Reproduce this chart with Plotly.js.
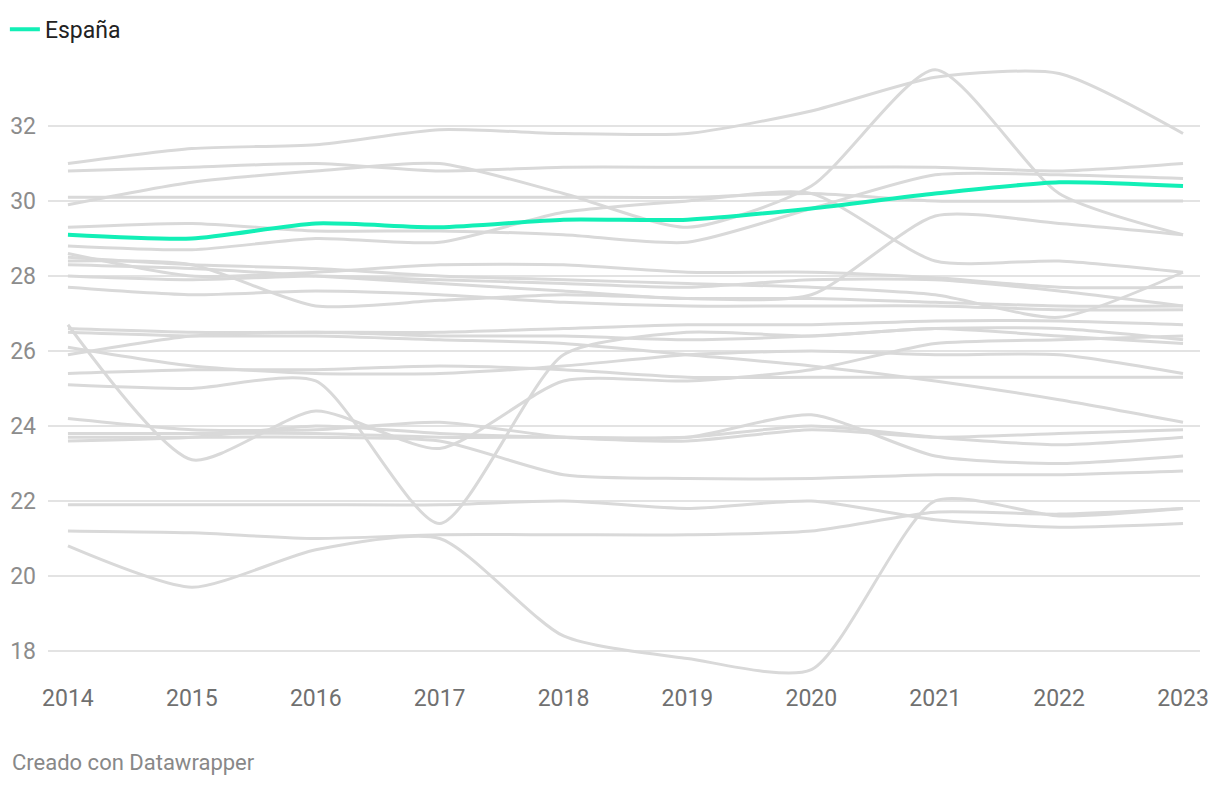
<!DOCTYPE html>
<html>
<head>
<meta charset="utf-8">
<script src="https://cdn.plot.ly/plotly-3.0.1.min.js"></script>
<style>
  html, body { margin: 0; padding: 0; background: #fff; }
  #chart { width: 1220px; height: 786px; }
</style>
</head>
<body>
<div id="chart"></div>
<script>
const years = [2014, 2015, 2016, 2017, 2018, 2019, 2020, 2021, 2022, 2023];
const yTicks = [18, 20, 22, 24, 26, 28, 30, 32];

const espana = [29.1, 29.0, 29.4, 29.3, 29.5, 29.5, 29.8, 30.2, 30.5, 30.4];

const g01 = [31.0, 31.4, 31.5, 31.9, 31.8, 31.8, 32.4, 33.3, 33.4, 31.8];
const g02 = [29.9, 30.5, 30.8, 31.0, 30.2, 29.3, 30.4, 33.5, 30.2, 29.1];
const g03 = [30.8, 30.9, 31.0, 30.8, 30.9, 30.9, 30.9, 30.9, 30.8, 31.0];
const g04 = [30.1, 30.1, 30.1, 30.1, 30.1, 30.1, 30.2, 30.0, 30.0, 30.0];
const g05 = [29.3, 29.4, 29.2, 29.2, 29.1, 28.9, 29.8, 30.7, 30.7, 30.6];
const g06 = [28.8, 28.7, 29.0, 28.9, 29.7, 30.0, 30.2, 28.4, 28.4, 28.1];
const g07 = [28.6, 28.0, 28.1, 28.3, 28.3, 28.1, 28.1, 27.95, 27.7, 27.7];
const g08 = [28.5, 28.3, 28.2, 28.0, 27.9, 27.8, 27.7, 27.5, 26.9, 28.1];
const g09 = [28.4, 28.3, 27.2, 27.35, 27.5, 27.4, 27.4, 27.3, 27.2, 27.2];
const g10 = [28.3, 28.2, 28.0, 27.8, 27.6, 27.4, 27.5, 29.6, 29.4, 29.1];
const g11 = [28.0, 27.9, 28.0, 27.9, 27.8, 27.7, 27.9, 27.9, 27.6, 27.2];
const g12 = [27.7, 27.5, 27.6, 27.5, 27.3, 27.2, 27.2, 27.2, 27.1, 27.1];
const g13 = [26.7, 23.1, 24.4, 23.4, 25.2, 25.2, 25.5, 26.2, 26.3, 26.4];
const g14 = [26.6, 26.5, 26.5, 26.5, 26.6, 26.7, 26.7, 26.8, 26.8, 26.7];
const g15 = [26.5, 26.4, 26.4, 26.3, 26.2, 25.9, 25.6, 25.2, 24.7, 24.1];
const g16 = [26.1, 25.6, 25.4, 25.4, 25.6, 25.9, 26.0, 25.9, 25.9, 25.4];
const g17 = [25.9, 26.4, 26.5, 26.4, 26.4, 26.3, 26.4, 26.6, 26.6, 26.3];
const g18 = [25.4, 25.5, 25.5, 25.6, 25.5, 25.3, 25.3, 25.3, 25.3, 25.3];
const g19 = [25.1, 25.0, 25.2, 21.4, 25.9, 26.5, 26.4, 26.6, 26.4, 26.2];
const g20 = [24.2, 23.9, 23.9, 24.1, 23.7, 23.6, 23.9, 23.7, 23.8, 23.9];
const g21 = [23.8, 23.8, 23.8, 23.7, 23.7, 23.7, 24.3, 23.2, 23.0, 23.2];
const g22 = [23.7, 23.7, 23.7, 23.6, 22.7, 22.6, 22.6, 22.7, 22.7, 22.8];
const g23 = [23.6, 23.7, 24.0, 23.8, 23.7, 23.7, 24.0, 23.7, 23.5, 23.7];
const g24 = [21.9, 21.9, 21.9, 21.9, 22.0, 21.8, 22.0, 21.5, 21.3, 21.4];
const g25 = [21.2, 21.15, 21.0, 21.1, 21.1, 21.1, 21.2, 21.7, 21.65, 21.8];
const g26 = [20.8, 19.7, 20.7, 21.0, 18.4, 17.8, 17.5, 22.0, 21.6, 21.8];

const greySeries = [g01, g02, g03, g04, g05, g06, g07, g08, g09, g10, g11, g12, g13,
                    g14, g15, g16, g17, g18, g19, g20, g21, g22, g23, g24, g25, g26];

const FONT = 'Roboto, "Noto Sans", Arial, sans-serif';
const traces = greySeries.map((vals, i) => ({
  x: years, y: vals, type: 'scatter', mode: 'lines',
  name: 'Otros ' + (i + 1), showlegend: false, hoverinfo: 'skip',
  line: { color: '#d9d9d9', width: 3, shape: 'spline', smoothing: 0.65 }
}));
traces.push({
  x: years, y: espana, type: 'scatter', mode: 'lines', name: 'España',
  showlegend: true,
  line: { color: '#12efb6', width: 4, shape: 'spline', smoothing: 0.65 }
});

const layout = {
  width: 1220, height: 786,
  margin: { l: 48, r: 20, t: 60, b: 110, autoexpand: false },
  paper_bgcolor: '#ffffff', plot_bgcolor: '#ffffff',
  font: { family: FONT },
  showlegend: true,
  legend: {
    x: 0.004, y: 0.99, xref: 'container', yref: 'container', xanchor: 'left', yanchor: 'top',
    font: { family: FONT, size: 23, color: '#222222' },
    bgcolor: 'rgba(0,0,0,0)', itemwidth: 30
  },
  xaxis: {
    range: [2013.839, 2023.137], tickmode: 'array', tickvals: years,
    ticktext: years.map(String), showgrid: false, zeroline: false, showline: false,
    ticks: '', ticklabelstandoff: 6, automargin: false,
    tickfont: { family: FONT, size: 23, color: '#707070' }
  },
  yaxis: {
    range: [17.333, 33.76], tickmode: 'array', tickvals: yTicks,
    ticktext: yTicks.map(String), showgrid: true, gridcolor: '#e3e3e3', gridwidth: 1.5,
    zeroline: false, showline: false, ticks: '', ticklabelstandoff: 11, automargin: false,
    tickfont: { family: FONT, size: 23, color: '#8c8c8c' }
  },
  annotations: [{
    text: 'Creado con Datawrapper', xref: 'paper', yref: 'paper',
    x: -0.033, y: -0.141, xanchor: 'left', yanchor: 'middle', showarrow: false,
    font: { family: FONT, size: 22, color: '#888888' }
  }]
};

Plotly.newPlot('chart', traces, layout, { displayModeBar: false, staticPlot: true });
</script>
</body>
</html>
